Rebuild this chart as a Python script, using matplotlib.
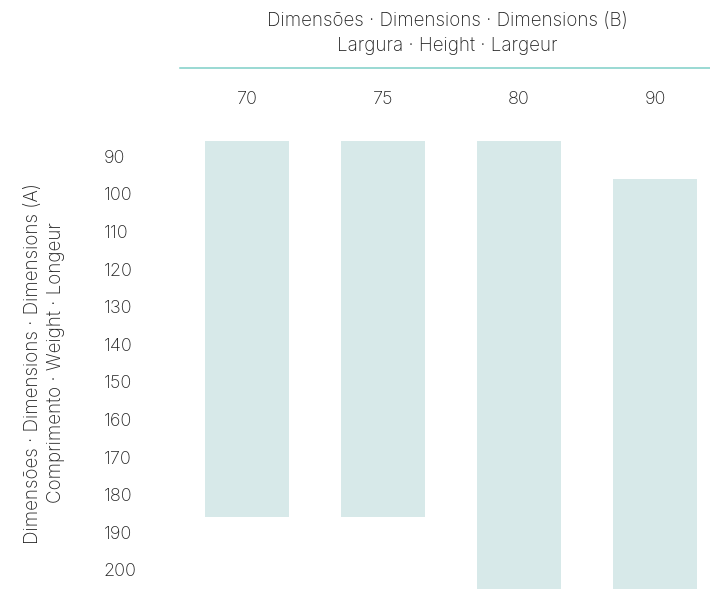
import matplotlib
matplotlib.use("Agg")
import matplotlib.pyplot as plt
from matplotlib.lines import Line2D
from matplotlib.transforms import ScaledTranslation

# Columns: dimension B (width)
widths = ["70", "75", "80", "90"]
# Rows: dimension A (length)
lengths = [90, 100, 110, 120, 130, 140, 150, 160, 170, 180, 190, 200]
# Available range of lengths for each width (first row, last row)
row_from = [90, 90, 90, 100]
row_to = [180, 180, 200, 200]

title_b = ["Dimensões · Dimensions · Dimensions (B)", "Largura · Height · Largeur"]
title_a = ["Dimensões · Dimensions · Dimensions (A)", "Comprimento · Weight · Longeur"]

plt.rcParams["font.family"] = ["Inter", "DejaVu Sans"]
TEXT = "#222222"
BAR = "#d7e9e9"
LINE = "#7fd0c8"
WEIGHT = "light"

fig = plt.figure(figsize=(7.1, 5.89), dpi=100)
W, H = 710, 589
ax = fig.add_axes([180 / W, 0, 530 / W, 469 / H])

step = 10
bottoms = [r - step / 2 for r in row_from]
heights = [t - f + step for f, t in zip(row_from, row_to)]
xs = list(range(len(widths)))
ax.bar(xs, heights, bottom=bottoms, width=0.618, color=BAR, linewidth=0)

ax.set_xlim(-0.493, 3.404)
ax.set_ylim(204.14, 79.41)
for s in ax.spines.values():
    s.set_visible(False)

ax.xaxis.tick_top()
ax.set_xticks(xs)
ax.set_xticklabels(widths, fontsize=13, color=TEXT, fontweight=WEIGHT)
ax.tick_params(axis="x", length=0, pad=9)

ax.set_yticks(lengths)
ax.set_yticklabels([str(v) for v in lengths], fontsize=13, color=TEXT,
                   fontweight=WEIGHT, ha="left")
ax.tick_params(axis="y", length=0, pad=55)
shift = ScaledTranslation(0, 0.035, fig.dpi_scale_trans)
for lbl in ax.get_yticklabels():
    lbl.set_transform(lbl.get_transform() + shift)

fig.add_artist(Line2D([180 / W, 1], [1 - 68 / H, 1 - 68 / H], color=LINE, lw=1.1))

fig.text(447 / W, 1 - 21 / H, title_b[0], ha="center", va="center",
         fontsize=13.5, color=TEXT, fontweight=WEIGHT)
fig.text(447 / W, 1 - 46 / H, title_b[1], ha="center", va="center",
         fontsize=13.5, color=TEXT, fontweight=WEIGHT)
fig.text(33 / W, 1 - 363 / H, title_a[0], ha="center", va="center", rotation=90,
         fontsize=13.5, color=TEXT, fontweight=WEIGHT)
fig.text(56 / W, 1 - 363 / H, title_a[1], ha="center", va="center", rotation=90,
         fontsize=13.5, color=TEXT, fontweight=WEIGHT)

fig.savefig("out.png", dpi=100)
